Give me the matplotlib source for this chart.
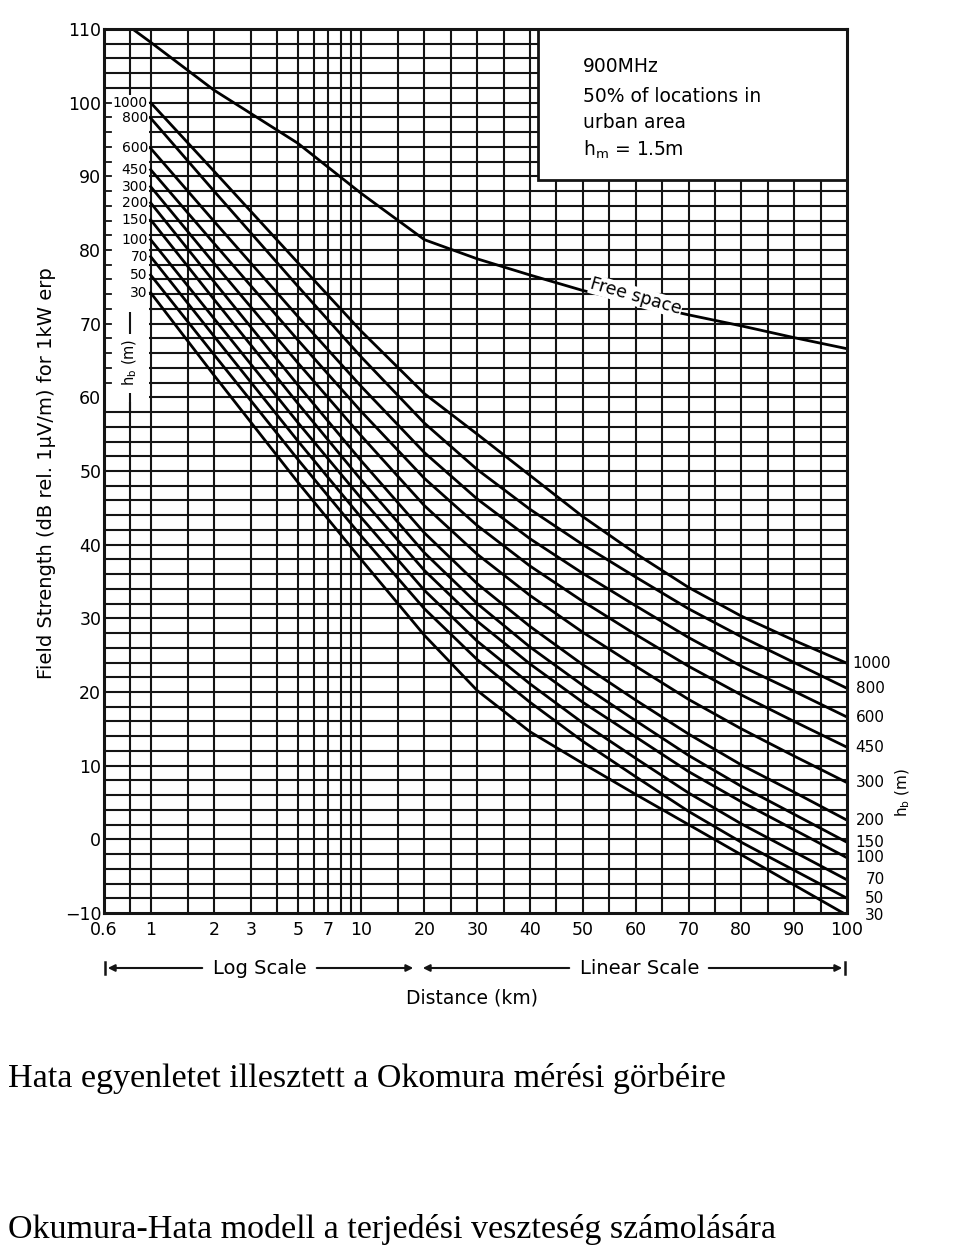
import numpy as np
import matplotlib.pyplot as plt
from matplotlib.patches import Rectangle
from matplotlib.lines import Line2D

dist = [1, 2, 5, 10, 20, 30, 40, 50, 60, 70, 80, 90, 100]

# field strength (dB rel. 1uV/m) for each base station height h_b
e_1000 = [100.0, 90.7, 78.3, 69.0, 60.5, 55.0, 49.4, 43.8, 38.8, 34.2, 30.3, 27.0, 23.9]
e_800 = [97.9, 88.0, 75.1, 65.5, 56.5, 50.2, 44.8, 40.0, 35.6, 31.3, 27.5, 24.0, 20.5]
e_600 = [93.8, 83.9, 71.0, 61.5, 52.5, 46.2, 40.8, 36.1, 31.7, 27.4, 23.5, 20.1, 16.6]
e_450 = [90.9, 80.9, 67.8, 58.1, 49.0, 42.6, 37.1, 32.3, 27.8, 23.5, 19.6, 16.0, 12.5]
e_300 = [88.6, 78.2, 64.7, 54.8, 45.3, 38.7, 33.1, 28.1, 23.5, 19.0, 15.0, 11.3, 7.7]
e_200 = [86.4, 75.7, 61.7, 51.4, 41.6, 34.7, 28.9, 23.7, 18.9, 14.3, 10.1, 6.4, 2.6]
e_150 = [84.1, 73.3, 59.2, 48.8, 38.9, 32.0, 26.1, 20.9, 16.1, 11.4, 7.2, 3.4, -0.4]
e_100 = [81.4, 70.7, 56.6, 46.3, 36.5, 29.6, 23.8, 18.6, 13.9, 9.2, 5.1, 1.3, -2.5]
e_70 = [79.1, 68.3, 54.1, 43.7, 33.8, 26.9, 21.1, 15.8, 11.0, 6.3, 2.1, -1.7, -5.5]
e_50 = [76.6, 65.8, 51.6, 41.2, 31.3, 24.4, 18.6, 13.3, 8.5, 3.8, -0.4, -4.2, -8.0]
e_30 = [74.2, 63.0, 48.5, 38.0, 27.7, 20.2, 14.6, 10.3, 6.1, 2.0, -2.1, -6.2, -10.3]

heights = ['1000', '800', '600', '450', '300', '200', '150', '100', '70', '50', '30']
curves = [e_1000, e_800, e_600, e_450, e_300, e_200, e_150, e_100, e_70, e_50, e_30]

fs_dist = [0.82, 1, 2, 5, 10, 20, 30, 40, 50, 60, 70, 80, 90, 100]
fs_field = [110, 108.2, 101.7, 94.5, 87.7, 81.4, 78.8, 76.6, 74.5, 72.8, 71.2, 69.7, 68.1, 66.6]

x_ticks = [0.6, 1, 2, 3, 5, 7, 10, 20, 30, 40, 50, 60, 70, 80, 90, 100]
x_tick_labels = ['0.6', '1', '2', '3', '5', '7', '10', '20', '30', '40', '50', '60', '70', '80', '90', '100']
y_ticks = [-10, 0, 10, 20, 30, 40, 50, 60, 70, 80, 90, 100, 110]

v_grid = [0.8, 1, 1.5, 2, 3, 4, 5, 6, 7, 8, 9, 10, 15, 20] + list(range(25, 100, 5))
h_grid = list(range(-8, 110, 2))

# log scale up to 20 km, linear scale beyond
K = 0.02511


def fwd(d):
    d = np.asarray(d, dtype=float)
    lg = np.log10(np.clip(d, 1e-3, None))
    return np.where(d <= 20, lg, np.log10(20) + (d - 20) * K)


def inv(u):
    u = np.asarray(u, dtype=float)
    return np.where(u <= np.log10(20), 10 ** np.clip(u, -5, 5), 20 + (u - np.log10(20)) / K)


W, H = 960, 1249


def fx(px):
    return px / W


def fy(py):
    return 1 - py / H


fig = plt.figure(figsize=(9.6, 12.49), dpi=100)
ax = fig.add_axes([fx(104), fy(913), fx(847) - fx(104), fy(29) - fy(913)])
ax.set_xscale('function', functions=(fwd, inv))
ax.set_xlim(0.6, 100)
ax.set_ylim(-10, 110)

ink = '#141414'
ax.vlines(v_grid, -10, 110, color=ink, lw=1.5, zorder=1)
ax.hlines(h_grid, 0.6, 100, color=ink, lw=1.5, zorder=1)

# blank column with the h_b labels
ax.fill_between([0.606, 0.985], 59.3, 101, color='white', lw=0, zorder=2)
for yy in range(62, 101, 2):
    ax.axhline(yy, xmin=0, xmax=0.009, color=ink, lw=1.3, zorder=3)
ax.vlines(0.8, 68.6, 71.6, color=ink, lw=1.5, zorder=3)
ax.vlines(0.8, 58.0, 60.6, color=ink, lw=1.5, zorder=3)
ax.text(0.8, 64.8, r'h$_\mathrm{b}$ (m)', rotation=90, ha='center', va='center',
        fontsize=10.5, zorder=3)

# info box
box_x0 = (538 - 104) / 743
box_y0 = (913 - 180) / 884
ax.add_patch(Rectangle((box_x0, box_y0), 1 - box_x0, 1 - box_y0, transform=ax.transAxes,
                       facecolor='white', edgecolor=ink, lw=2, zorder=3))
info = ['900MHz', '50% of locations in', 'urban area', r'h$_\mathrm{m}$ = 1.5m']
info_y = [66, 97, 122, 150]
for txt, py in zip(info, info_y):
    fig.text(fx(583), fy(py), txt, fontsize=13.5, ha='left', va='center', zorder=5)

# curves
for h, e in zip(heights, curves):
    ax.plot(dist, e, color='black', lw=2.0, zorder=4)
    ax.annotate(h, xy=(1, e[0]), xytext=(-2, 0), textcoords='offset points',
                ha='right', va='center', fontsize=10, annotation_clip=False)
    if len(h) == 4:
        ax.annotate(h, xy=(100, e[-1]), xytext=(4, 0), textcoords='offset points',
                    ha='left', va='center', fontsize=11, annotation_clip=False)
    else:
        ax.annotate(h, xy=(100, e[-1]), xytext=(27, 0), textcoords='offset points',
                    ha='right', va='center', fontsize=11, annotation_clip=False)

ax.plot(fs_dist, fs_field, color='black', lw=2.0, zorder=4)
ax.text(60.0, 73.7, 'Free space', rotation=-16, ha='center', va='center', fontsize=12.5,
        zorder=5, bbox=dict(facecolor='white', edgecolor='none', pad=0.5))

fig.text(fx(903), fy(792), r'h$_\mathrm{b}$ (m)', rotation=90, ha='center', va='center',
         fontsize=11)

# axes cosmetics
for sp in ax.spines.values():
    sp.set_linewidth(2.2)
    sp.set_color(ink)
    sp.set_zorder(6)
ax.set_xticks(x_ticks)
ax.set_xticklabels(x_tick_labels)
ax.xaxis.set_minor_locator(plt.NullLocator())
ax.set_yticks(y_ticks)
ax.set_yticklabels([str(v).replace('-', '\u2212') for v in y_ticks])
ax.tick_params(axis='x', length=0, labelsize=12.5, pad=6)
ax.tick_params(axis='y', length=0, labelsize=12.5, pad=2)

fig.text(fx(47), fy(473), 'Field Strength (dB rel. 1\u03bcV/m) for 1kW erp', rotation=90,
         ha='center', va='center', fontsize=14)

# log / linear scale indicator
y_ind = 968
arrow_kw = dict(arrowstyle='-|>', color=ink, lw=1.5, mutation_scale=10)
ax.annotate('', xy=(fx(105), fy(y_ind)), xytext=(fx(205), fy(y_ind)),
            xycoords='figure fraction', textcoords='figure fraction', arrowprops=arrow_kw)
ax.annotate('', xy=(fx(416), fy(y_ind)), xytext=(fx(314), fy(y_ind)),
            xycoords='figure fraction', textcoords='figure fraction', arrowprops=arrow_kw)
ax.annotate('', xy=(fx(420), fy(y_ind)), xytext=(fx(572), fy(y_ind)),
            xycoords='figure fraction', textcoords='figure fraction', arrowprops=arrow_kw)
ax.annotate('', xy=(fx(845), fy(y_ind)), xytext=(fx(706), fy(y_ind)),
            xycoords='figure fraction', textcoords='figure fraction', arrowprops=arrow_kw)
for px in (105, 845):
    fig.add_artist(Line2D([fx(px), fx(px)], [fy(y_ind - 6), fy(y_ind + 6)], color=ink, lw=1.8))
fig.text(fx(260), fy(y_ind), 'Log Scale', ha='center', va='center', fontsize=14)
fig.text(fx(640), fy(y_ind), 'Linear Scale', ha='center', va='center', fontsize=14)
fig.text(fx(472), fy(998), 'Distance (km)', ha='center', va='center', fontsize=13.5)

# captions
fig.text(fx(8), fy(1087), 'Hata egyenletet illesztett a Okomura mérési görbéire',
         family='Liberation Serif', fontsize=24.5, va='baseline', ha='left')
fig.text(fx(8), fy(1238), 'Okumura-Hata modell a terjedési veszteség számolására',
         family='Liberation Serif', fontsize=24.5, va='baseline', ha='left')

fig.savefig('out.png', dpi=100, facecolor='white')
